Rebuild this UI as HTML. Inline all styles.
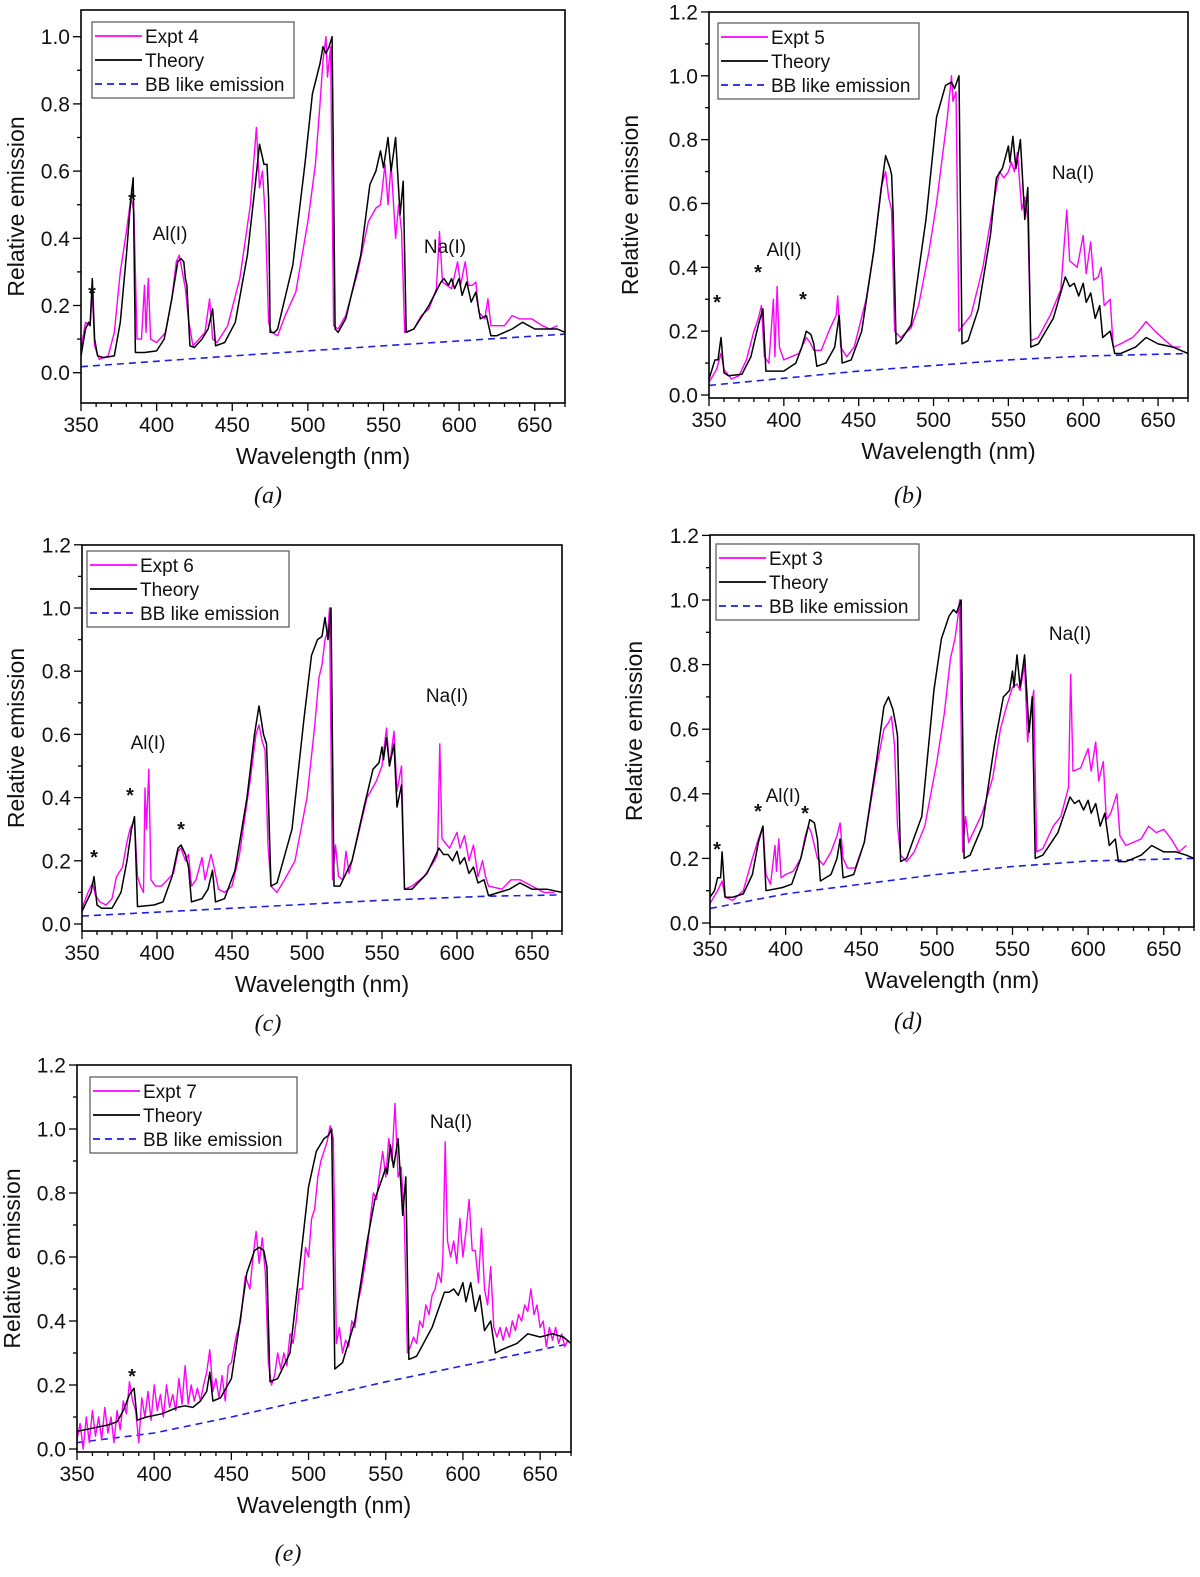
<!DOCTYPE html>
<html><head><meta charset="utf-8"><title>Relative emission spectra</title>
<style>
html,body{margin:0;padding:0;background:#fff;}
svg{display:block;font-family:"Liberation Sans",Arial,sans-serif;}
.tick{font-size:21px;fill:#111;}
.atitle{font-size:23px;fill:#111;}
.leg{font-size:19px;fill:#111;}
.ann{font-size:19px;fill:#111;}
.cap{font-family:"Liberation Serif",serif;font-style:italic;font-size:24px;fill:#111;}
</style></head>
<body>
<svg id="fig" width="1200" height="1577" viewBox="0 0 1200 1577" xmlns="http://www.w3.org/2000/svg"></svg>
<script>
// ---------- Panel (a) data ----------
const aTheoryX=[350,353,355,356,357.5,359,361,365,372,376,380,383,384.5,386,392,400,405,410,414,416,418,419,420,422,425,430,434,437,439,445,452,460,465,468,471,473,474,475,478,480,490,498,503,508,510,512,514,516,518,520,525,535,541,545,548,550,553,555,558,561,563,565,570,580,588,590,593,595,597,600,602,605,608,611,614,618,621,625,635,642,650,660,665,670];
const aTheoryY=[0.05,0.13,0.15,0.14,0.28,0.1,0.05,0.045,0.05,0.15,0.35,0.52,0.58,0.06,0.06,0.065,0.1,0.22,0.33,0.34,0.33,0.28,0.26,0.08,0.075,0.1,0.13,0.19,0.08,0.09,0.15,0.35,0.55,0.68,0.62,0.62,0.52,0.12,0.12,0.13,0.32,0.62,0.83,0.92,0.97,0.95,0.97,1.0,0.13,0.12,0.16,0.35,0.56,0.6,0.66,0.61,0.7,0.6,0.7,0.47,0.57,0.12,0.13,0.2,0.27,0.28,0.26,0.28,0.25,0.28,0.23,0.27,0.21,0.24,0.16,0.17,0.11,0.11,0.13,0.15,0.13,0.13,0.13,0.12];
const aExptX=[350,353,356,357.5,359,362,368,372,376,380,383,385,387,390,392,393,394.5,396,400,406,410,413,415,417,419,421,424,428,432,435,437,440,447,455,462,466,468,470,472,474,476,480,485,492,500,505,508,510,512,513,515,517,520,525,533,540,545,548,551,553,555,558,560,562,564,570,575,580,585,587,589,595,599,601,604,606,609,611,613,617,619,621,630,635,640,648,655,660,665];
const aExptY=[0.07,0.15,0.14,0.24,0.08,0.04,0.05,0.12,0.3,0.42,0.52,0.48,0.1,0.1,0.26,0.12,0.28,0.1,0.09,0.12,0.22,0.33,0.35,0.3,0.25,0.16,0.08,0.1,0.12,0.22,0.1,0.09,0.14,0.28,0.5,0.73,0.55,0.6,0.45,0.15,0.12,0.11,0.17,0.24,0.45,0.62,0.8,0.93,1.0,0.88,0.97,0.14,0.13,0.17,0.3,0.45,0.49,0.5,0.62,0.5,0.62,0.4,0.5,0.42,0.12,0.13,0.17,0.19,0.25,0.42,0.27,0.25,0.33,0.26,0.33,0.26,0.26,0.27,0.18,0.16,0.22,0.14,0.14,0.17,0.16,0.16,0.14,0.13,0.14];
const aBBX=[350,450,550,670];
const aBBY=[0.018,0.05,0.08,0.115];

// ---------- Panel (b) data ----------
const bTheoryX=[350,354,356,358,360,363,372,378,383,386,388,400,408,412,415,418,420,422,428,434,437,439,445,452,460,466,468,471,472,473,475,478,485,495,502,508,512,514,517,519,523,530,538,542,546,550,551,553,555,558,561,563,565,570,580,588,591,594,597,600,602,605,608,611,613,618,621,625,635,642,650,660,665,670];
const bTheoryY=[0.05,0.11,0.11,0.18,0.07,0.06,0.065,0.12,0.22,0.27,0.075,0.075,0.1,0.15,0.2,0.19,0.16,0.09,0.1,0.15,0.25,0.1,0.11,0.2,0.45,0.68,0.75,0.71,0.69,0.57,0.16,0.17,0.22,0.55,0.87,0.97,0.98,0.96,1.0,0.16,0.17,0.27,0.5,0.68,0.71,0.78,0.73,0.81,0.71,0.8,0.55,0.65,0.15,0.16,0.24,0.37,0.34,0.35,0.31,0.35,0.29,0.32,0.24,0.28,0.18,0.2,0.13,0.13,0.15,0.18,0.16,0.15,0.14,0.13];
const bExptX=[350,355,358,360,365,370,375,380,383,385,387,390,393,394,395.5,397,400,405,410,413,415,418,420,425,430,435,436,438,442,447,455,460,465,468,470,472,474,478,485,490,497,502,506,509,512,513,515,517,520,525,533,540,544,547,550,552,554,556,559,561,563,565,570,578,585,589,591,596,600,602,605,607,610,612,614,618,620,625,633,637,642,648,655,660,665];
const bExptY=[0.04,0.08,0.13,0.08,0.05,0.06,0.11,0.2,0.24,0.28,0.12,0.1,0.3,0.12,0.34,0.15,0.11,0.12,0.13,0.16,0.18,0.16,0.14,0.14,0.2,0.25,0.31,0.15,0.12,0.15,0.3,0.45,0.65,0.7,0.62,0.58,0.2,0.18,0.21,0.28,0.45,0.6,0.75,0.86,1.0,0.92,0.95,0.2,0.22,0.25,0.4,0.6,0.7,0.68,0.7,0.73,0.7,0.76,0.58,0.62,0.55,0.17,0.18,0.25,0.33,0.58,0.42,0.4,0.5,0.38,0.48,0.36,0.37,0.4,0.28,0.3,0.15,0.16,0.18,0.2,0.23,0.2,0.17,0.15,0.15];
const bBBX=[350,450,550,600,670];
const bBBY=[0.03,0.075,0.11,0.122,0.13];

// ---------- Panel (c) data ----------
const cTheoryX=[350,354,356,358,360,363,370,376,380,383,385,387,398,404,410,414,416,419,421,423,430,434,437,439,445,452,460,465,468,471,473,474,476,480,490,498,503,507,510,512,514,516,518,522,530,538,544,548,550,551,553,555,558,560,563,565,570,580,588,591,594,597,600,602,605,608,611,614,618,621,628,635,642,650,660,665,670];
const cTheoryY=[0.04,0.08,0.1,0.15,0.06,0.05,0.05,0.1,0.2,0.3,0.34,0.055,0.06,0.07,0.15,0.24,0.25,0.22,0.18,0.07,0.08,0.11,0.17,0.07,0.08,0.17,0.4,0.6,0.69,0.6,0.57,0.44,0.12,0.13,0.3,0.65,0.85,0.9,0.91,0.97,0.9,1.0,0.12,0.12,0.2,0.37,0.49,0.51,0.56,0.52,0.59,0.5,0.57,0.37,0.44,0.11,0.11,0.16,0.24,0.22,0.22,0.2,0.23,0.19,0.21,0.16,0.18,0.13,0.14,0.09,0.1,0.11,0.13,0.11,0.11,0.105,0.1];
const cExptX=[350,354,357,359,362,366,370,373,377,380,382,385,387,389,391,392,393,394.5,396,399,403,407,411,414,416,419,421,423,426,430,432,436,438,441,445,450,455,462,466,468,470,472,474,476,480,485,492,500,505,508,510,512,514,515,517,519,521,524,526,528,532,540,546,550,553,555,558,560,563,565,570,578,585,587,588.5,590,595,600,602,605,608,611,614,617,619,621,630,636,642,650,658,665];
const cExptY=[0.05,0.1,0.13,0.09,0.07,0.06,0.08,0.15,0.18,0.26,0.3,0.33,0.15,0.12,0.1,0.43,0.3,0.49,0.14,0.12,0.12,0.14,0.16,0.23,0.24,0.2,0.22,0.12,0.14,0.21,0.14,0.22,0.18,0.11,0.1,0.12,0.22,0.45,0.6,0.63,0.58,0.55,0.25,0.12,0.1,0.14,0.2,0.4,0.62,0.78,0.82,0.9,0.93,1.0,0.14,0.25,0.15,0.14,0.23,0.16,0.24,0.4,0.45,0.5,0.62,0.5,0.61,0.42,0.5,0.11,0.12,0.15,0.2,0.22,0.57,0.27,0.24,0.29,0.24,0.28,0.2,0.25,0.15,0.2,0.15,0.12,0.11,0.14,0.14,0.12,0.1,0.1];
const cBBX=[350,450,550,620,670];
const cBBY=[0.025,0.05,0.075,0.088,0.092];

// ---------- Panel (d) data ----------
const dTheoryX=[350,353,355,357,358,360,365,372,378,382,385,387,398,404,410,414,416,419,421,423,430,434,436,438,445,452,460,465,468,471,473,474,476,480,490,498,503,508,511,513,516,518,522,530,538,544,548,550,551,553,555,558,561,563,565,570,580,588,591,594,597,600,602,605,608,611,614,618,620,625,635,642,650,658,665,670];
const dTheoryY=[0.08,0.1,0.14,0.14,0.22,0.08,0.08,0.09,0.15,0.25,0.3,0.1,0.11,0.12,0.2,0.28,0.32,0.31,0.26,0.13,0.15,0.2,0.26,0.14,0.15,0.25,0.5,0.67,0.7,0.66,0.61,0.58,0.19,0.2,0.33,0.72,0.88,0.95,0.97,0.96,1.0,0.2,0.21,0.3,0.55,0.7,0.72,0.78,0.73,0.83,0.73,0.83,0.59,0.7,0.2,0.21,0.28,0.39,0.37,0.38,0.35,0.38,0.34,0.37,0.3,0.34,0.24,0.26,0.19,0.19,0.21,0.24,0.22,0.22,0.21,0.2];
const dExptX=[350,355,358,360,365,372,378,382,385,387,390,393,394,395.5,397,400,405,410,413,415,417,419,421,425,430,434,436,438,441,446,452,460,465,468,470,472,474,476,480,485,492,500,505,509,512,514,515,517,519,521,525,530,537,542,546,550,553,555,558,560,562,564,566,570,577,582,587,588.5,590,595,600,602,605,607,610,612,615,619,621,625,635,640,645,650,655,660,665];
const dExptY=[0.06,0.1,0.13,0.08,0.07,0.1,0.2,0.26,0.3,0.15,0.12,0.24,0.16,0.26,0.14,0.15,0.16,0.2,0.27,0.3,0.28,0.24,0.2,0.18,0.22,0.27,0.31,0.2,0.17,0.17,0.25,0.48,0.6,0.62,0.64,0.55,0.3,0.21,0.19,0.22,0.3,0.5,0.65,0.82,0.88,0.95,1.0,0.22,0.33,0.25,0.29,0.34,0.45,0.6,0.67,0.73,0.74,0.72,0.8,0.56,0.65,0.72,0.22,0.23,0.3,0.33,0.42,0.77,0.47,0.48,0.54,0.47,0.56,0.44,0.5,0.32,0.34,0.4,0.27,0.24,0.26,0.3,0.28,0.29,0.26,0.22,0.24];
const dBBX=[350,400,450,500,550,600,670];
const dBBY=[0.045,0.09,0.12,0.15,0.175,0.192,0.2];

// ---------- Panel (e) data ----------
const eTheoryX=[350,360,370,376,380,384,387,389,395,405,415,420,425,430,434,436,438,443,450,455,460,465,468,471,473,475,480,488,495,500,505,510,513,515,517,522,530,538,543,548,550,551,553,555,558,561,563,565,570,580,588,591,594,597,600,602,605,608,611,614,618,621,625,635,642,650,658,665,670];
const eTheoryY=[0.055,0.065,0.075,0.085,0.12,0.17,0.19,0.09,0.1,0.11,0.13,0.135,0.13,0.15,0.18,0.24,0.15,0.16,0.22,0.38,0.55,0.62,0.63,0.62,0.57,0.21,0.22,0.3,0.6,0.82,0.93,0.97,0.98,1.0,0.25,0.27,0.4,0.65,0.78,0.85,0.88,0.86,0.95,0.88,0.97,0.73,0.85,0.28,0.29,0.38,0.49,0.49,0.5,0.48,0.52,0.46,0.52,0.43,0.48,0.37,0.4,0.3,0.31,0.33,0.36,0.35,0.36,0.35,0.33];
const eExptX=[350,352,354,356,358,360,362,364,366,368,370,372,374,376,378,380,382,384,386,388,390,392,394,396,398,400,402,404,406,408,410,412,414,416,418,420,422,424,426,428,430,432,434,436,438,440,442,444,446,448,450,453,456,459,462,464,466,468,470,472,474,476,478,480,482,484,486,488,490,492,494,496,498,500,502,504,506,508,510,512,514,516,518,520,522,524,526,528,530,532,534,536,538,540,542,544,546,548,550,552,554,556,558,560,562,564,566,568,570,572,574,576,578,580,582,584,586,587,588.5,590,592,594,596,598,600,602,604,606,608,610,612,614,616,618,620,622,624,626,628,630,632,634,636,638,640,642,644,646,648,650,652,654,656,658,660,662,664,666,668];
const eExptY=[0.03,0.08,0.0,0.1,0.02,0.12,0.04,0.1,0.03,0.13,0.05,0.1,0.02,0.12,0.06,0.15,0.11,0.21,0.15,0.12,0.02,0.16,0.1,0.18,0.09,0.2,0.12,0.17,0.1,0.2,0.13,0.17,0.12,0.22,0.14,0.26,0.14,0.2,0.15,0.19,0.15,0.2,0.24,0.31,0.18,0.22,0.16,0.23,0.15,0.26,0.27,0.35,0.4,0.54,0.5,0.6,0.68,0.58,0.66,0.55,0.27,0.2,0.23,0.3,0.25,0.3,0.26,0.36,0.33,0.4,0.5,0.5,0.63,0.6,0.72,0.75,0.85,0.9,0.93,0.96,1.01,0.97,0.33,0.38,0.3,0.34,0.32,0.4,0.38,0.46,0.5,0.56,0.62,0.72,0.8,0.78,0.86,0.93,0.85,0.97,0.9,1.08,0.85,0.88,0.72,0.3,0.32,0.35,0.33,0.4,0.38,0.45,0.42,0.48,0.5,0.55,0.52,0.6,0.96,0.65,0.6,0.65,0.58,0.72,0.6,0.68,0.78,0.62,0.62,0.52,0.69,0.5,0.45,0.57,0.38,0.35,0.38,0.34,0.38,0.35,0.4,0.37,0.42,0.4,0.45,0.43,0.5,0.42,0.45,0.38,0.4,0.32,0.38,0.34,0.38,0.33,0.36,0.32,0.34];
const eBBX=[350,400,450,500,550,600,650,670];
const eBBY=[0.02,0.05,0.1,0.155,0.21,0.26,0.31,0.33];

// ---------- Tick label arrays ----------
const xTickVals=[350,400,450,500,550,600,650];
const yTickValsA=[0.0,0.2,0.4,0.6,0.8,1.0];
const yTickValsB=[0.0,0.2,0.4,0.6,0.8,1.0,1.2];

const NS="http://www.w3.org/2000/svg";
const svg=document.getElementById('fig');
function mk(tag,attrs,parent){const e=document.createElementNS(NS,tag);for(const k in attrs)e.setAttribute(k,attrs[k]);(parent||svg).appendChild(e);return e;}

function drawPanel(p){
  const g=mk('g',{});
  
  
  const sx=v=>p.L+(v-350)/(670-350)*(p.R-p.L);
  const sy=v=>p.y0-v*p.per1;
  const cid='clip-'+p.id;
  const cp=mk('clipPath',{id:cid},g);
  mk('rect',{x:p.L,y:p.T,width:p.R-p.L,height:p.B-p.T},cp);
  for(let w=350;w<=670;w+=10){
    const major=(w%50===0);
    const t=mk('line',{x1:sx(w),x2:sx(w),y1:p.B,y2:p.B+(major?8:4),stroke:'#000','stroke-width':1.3},g);
    
    
  }
  xTickVals.forEach(w=>{
    const t=mk('text',{x:sx(w),y:p.B+29,'text-anchor':'middle',class:'tick'},g);
    t.textContent=String(w);
    
    
  });
  for(let k=-1;k<=13;k++){
    const v=k/10;const y=sy(v);
    if(y>p.B+0.5||y<p.T-0.5)continue;
    const major=(k%2===0);
    const t=mk('line',{x1:p.L,x2:p.L-(major?8:4),y1:y,y2:y,stroke:'#000','stroke-width':1.3},g);
    
    
  }
  p.yTicks.forEach(v=>{
    const t=mk('text',{x:p.L-11,y:sy(v)+7.5,'text-anchor':'end',class:'tick'},g);
    t.textContent=v.toFixed(1);
    
    
  });
  const path=(xs,ys)=>xs.map((x,i)=>(i?'L':'M')+sx(x).toFixed(1)+','+sy(ys[i]).toFixed(1)).join('');
  const plot=mk('g',{'clip-path':'url(#'+cid+')'},g);
  const bb=mk('path',{d:path(p.bbX,p.bbY),fill:'none',stroke:'#1f1fe6','stroke-width':1.6,'stroke-dasharray':'7,5'},plot);
  
  
  const ex=mk('path',{d:path(p.exX,p.exY),fill:'none',stroke:'#ff00ff','stroke-width':1.4,'stroke-linejoin':'round'},plot);
  
  
  const th=mk('path',{d:path(p.thX,p.thY),fill:'none',stroke:'#000','stroke-width':1.5,'stroke-linejoin':'round'},plot);
  
  
  const fr=mk('rect',{x:p.L,y:p.T,width:p.R-p.L,height:p.B-p.T,fill:'none',stroke:'#000','stroke-width':1.6},g);
  
  
  const xt=mk('text',{x:(p.L+p.R)/2,y:p.B+61,'text-anchor':'middle',class:'atitle'},g);
  xt.textContent='Wavelength (nm)';
  
  
  const yc=(p.T+p.B)/2;
  const yt=mk('text',{x:0,y:0,'text-anchor':'middle',class:'atitle',transform:'translate('+(p.yTitleX)+','+yc+') rotate(-90)'},g);
  yt.textContent='Relative emission';
  
  
  const lg=mk('g',{},g);
  
  
  mk('rect',{x:p.lx,y:p.ly,width:p.lw,height:76,fill:'#fff',stroke:'#555','stroke-width':1.2},lg);
  const items=[[p.label,'#ff00ff',''],['Theory','#000',''],['BB like emission','#1f1fe6','7,5']];
  items.forEach((it,i)=>{
    const yy=p.ly+14+i*24;
    const ln=mk('line',{x1:p.lx+3,x2:p.lx+50,y1:yy,y2:yy,stroke:it[1],'stroke-width':1.8,'stroke-dasharray':it[2]},lg);
    
    
    const tx=mk('text',{x:p.lx+53,y:yy+7,class:'leg'},lg);
    tx.textContent=it[0];
    
    
  });
  p.ann.forEach(a=>{
    const t=mk('text',{x:a[1],y:a[2],'text-anchor':'middle',class:'ann',style:a[0]==='*'?'font-size:20px;font-weight:bold':''},g);
    t.textContent=a[0];
    
    
  });
  const cap=mk('text',{x:p.capX,y:p.capY,'text-anchor':'middle',class:'cap'},g);
  cap.textContent=p.cap;
  
  
}

drawPanel({id:'a',L:81,R:565,T:10,B:403,y0:372.7,per1:336,yTicks:yTickValsA,yTitleX:24,
  thX:aTheoryX,thY:aTheoryY,exX:aExptX,exY:aExptY,bbX:aBBX,bbY:aBBY,label:'Expt 4',
  lx:92,ly:22,lw:202,ann:[['Al(I)',170,240],['Na(I)',445,253],['*',92,300],['*',132,207]],cap:'(a)',capX:268,capY:503});
drawPanel({id:'b',L:709,R:1188,T:12,B:398,y0:395,per1:319.2,yTicks:yTickValsB,yTitleX:638,
  thX:bTheoryX,thY:bTheoryY,exX:bExptX,exY:bExptY,bbX:bBBX,bbY:bBBY,label:'Expt 5',
  lx:718,ly:23,lw:201,ann:[['Al(I)',784,256],['Na(I)',1073,179],['*',717,309],['*',758,279],['*',803,306]],cap:'(b)',capX:908,capY:503});
drawPanel({id:'c',L:82,R:562,T:545,B:931,y0:924,per1:316,yTicks:yTickValsB,yTitleX:24,
  thX:cTheoryX,thY:cTheoryY,exX:cExptX,exY:cExptY,bbX:cBBX,bbY:cBBY,label:'Expt 6',
  lx:87,ly:551,lw:202,ann:[['Al(I)',148,749],['Na(I)',447,702],['*',94,864],['*',130,802],['*',181,836]],cap:'(c)',capX:268,capY:1031});
drawPanel({id:'d',L:710,R:1194,T:535,B:927,y0:923,per1:323,yTicks:yTickValsB,yTitleX:642,
  thX:dTheoryX,thY:dTheoryY,exX:dExptX,exY:dExptY,bbX:dBBX,bbY:dBBY,label:'Expt 3',
  lx:716,ly:544,lw:203,ann:[['Al(I)',783,802],['Na(I)',1070,640],['*',717,856],['*',758,818],['*',805,820]],cap:'(d)',capX:908,capY:1029});
drawPanel({id:'e',L:77,R:571,T:1065,B:1452,y0:1449,per1:320,yTicks:yTickValsB,yTitleX:20,
  thX:eTheoryX,thY:eTheoryY,exX:eExptX,exY:eExptY,bbX:eBBX,bbY:eBBY,label:'Expt 7',
  lx:90,ly:1077,lw:207,ann:[['Na(I)',451,1128],['*',132,1383]],cap:'(e)',capX:288,capY:1561});
</script>
</body></html>
